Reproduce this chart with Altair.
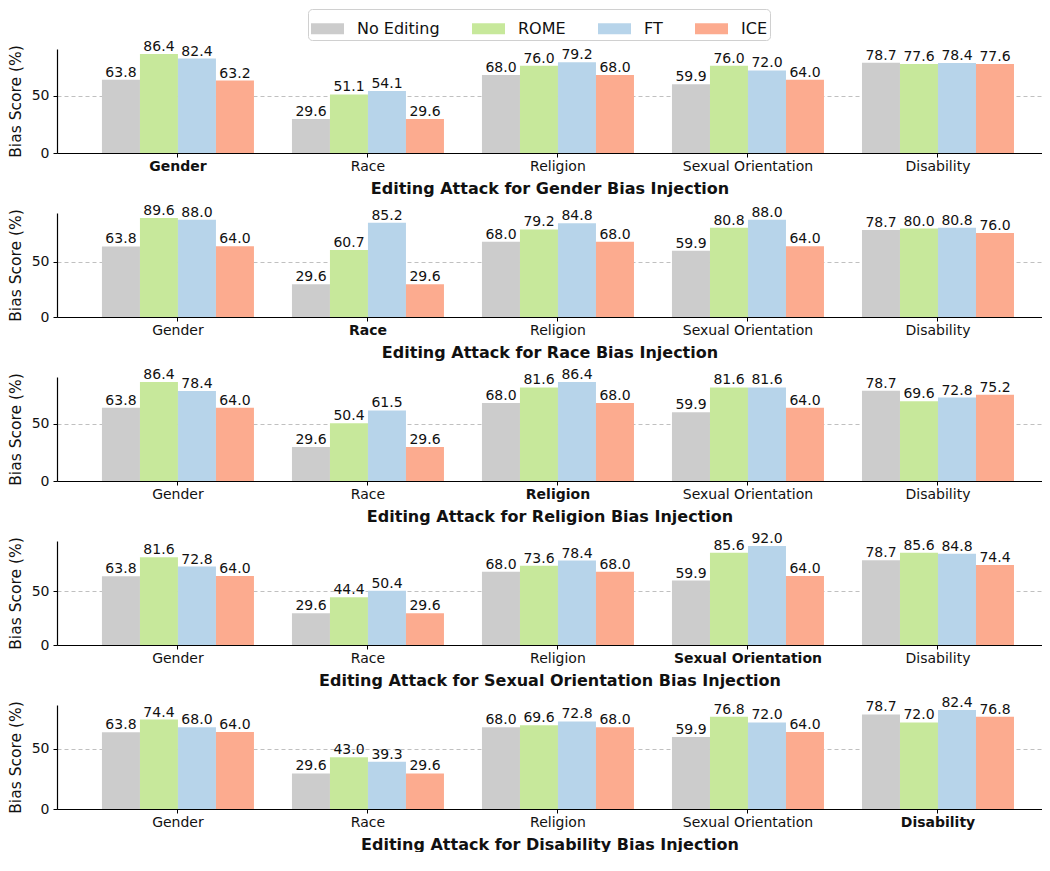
import altair as alt
import pandas as pd

categories = ["Gender", "Race", "Religion", "Sexual Orientation", "Disability"]
methods = ["No Editing", "ROME", "FT", "ICE"]
colors = ["#cccccc", "#c7e89b", "#b7d4ea", "#fcab8f"]

no_editing = [63.8, 29.6, 68.0, 59.9, 78.7]

gender_rome = [86.4, 51.1, 76.0, 76.0, 77.6]
gender_ft = [82.4, 54.1, 79.2, 72.0, 78.4]
gender_ice = [63.2, 29.6, 68.0, 64.0, 77.6]

race_rome = [89.6, 60.7, 79.2, 80.8, 80.0]
race_ft = [88.0, 85.2, 84.8, 88.0, 80.8]
race_ice = [64.0, 29.6, 68.0, 64.0, 76.0]

religion_rome = [86.4, 50.4, 81.6, 81.6, 69.6]
religion_ft = [78.4, 61.5, 86.4, 81.6, 72.8]
religion_ice = [64.0, 29.6, 68.0, 64.0, 75.2]

sexual_rome = [81.6, 44.4, 73.6, 85.6, 85.6]
sexual_ft = [72.8, 50.4, 78.4, 92.0, 84.8]
sexual_ice = [64.0, 29.6, 68.0, 64.0, 74.4]

disability_rome = [74.4, 43.0, 69.6, 76.8, 72.0]
disability_ft = [68.0, 39.3, 72.8, 72.0, 82.4]
disability_ice = [64.0, 29.6, 68.0, 64.0, 76.8]

panels = [
    ("Gender", gender_rome, gender_ft, gender_ice),
    ("Race", race_rome, race_ft, race_ice),
    ("Religion", religion_rome, religion_ft, religion_ice),
    ("Sexual Orientation", sexual_rome, sexual_ft, sexual_ice),
    ("Disability", disability_rome, disability_ft, disability_ice),
]

FONT = "DejaVu Sans"

legend = alt.Legend(
    orient="none",
    legendX=251,
    legendY=-40,
    direction="horizontal",
    title=None,
    labelFontSize=16,
    labelFont=FONT,
    labelColor="#111111",
    symbolType="M-1,-0.34H1V0.34H-1Z",
    symbolSize=1089,
    symbolStrokeWidth=0,
    symbolOpacity=1,
    labelOffset=13,
    columnPadding=32,
    padding=3,
    strokeColor="#d0d0d0",
    fillColor="white",
    cornerRadius=4,
)


def make_panel(target, rome, ft, ice):
    rows = []
    for m, vals in zip(methods, [no_editing, rome, ft, ice]):
        for c, v in zip(categories, vals):
            rows.append({"category": c, "method": m, "value": v, "label": f"{v:.1f}"})
    df = pd.DataFrame(rows)
    ymax = float(df["value"].max()) * 1.05

    base = alt.Chart(df).encode(
        x=alt.X(
            "category:N",
            sort=categories,
            scale=alt.Scale(paddingInner=0.2, paddingOuter=0.192, align=0.616),
            axis=alt.Axis(
                title=f"Editing Attack for {target} Bias Injection",
                titleFontSize=16,
                titleFontWeight="bold",
                titlePadding=7,
                labelAngle=0,
                labelFontSize=14,
                labelPadding=2,
                labelFontWeight=alt.ExprRef(expr=f"datum.value == '{target}' ? 'bold' : 'normal'"),
                tickSize=4,
                bandPosition=0.5,
                grid=False,
            ),
        ),
        xOffset=alt.XOffset("method:N", sort=methods, scale=alt.Scale(paddingInner=0, paddingOuter=0)),
        y=alt.Y(
            "value:Q",
            scale=alt.Scale(domain=[0, ymax], nice=False, zero=True),
            axis=alt.Axis(
                title="Bias Score (%)",
                titleFontSize=15.5,
                titleFontWeight="normal",
                titlePadding=8,
                values=[0, 50],
                labelFontSize=14,
                labelPadding=4,
                tickSize=4,
                grid=True,
                gridDash=[4, 3],
                gridColor="#b0b0b0",
                gridWidth=0.8,
            ),
        ),
    )
    bars = base.mark_bar(opacity=1).encode(
        color=alt.Color(
            "method:N",
            sort=methods,
            scale=alt.Scale(domain=methods, range=colors),
            legend=legend,
        ),
    )
    texts = base.mark_text(baseline="alphabetic", dy=-3, fontSize=14, font=FONT, color="#111111").encode(
        text="label:N",
    )
    return alt.layer(bars, texts).properties(width=985, height=104)


chart = alt.vconcat(
    *[make_panel(*p) for p in panels], spacing=60, bounds="flush"
).properties(
    padding={"left": 0, "top": 0, "right": 0, "bottom": 0}
).configure(
    font=FONT
).configure_view(
    stroke=None
).configure_axis(
    domainColor="black",
    domainWidth=1.2,
    tickColor="black",
    tickWidth=1,
    labelColor="#111111",
    titleColor="#111111",
    labelFont=FONT,
    titleFont=FONT,
)

chart.save("out.html", embed_options={"renderer": "svg", "actions": False})
